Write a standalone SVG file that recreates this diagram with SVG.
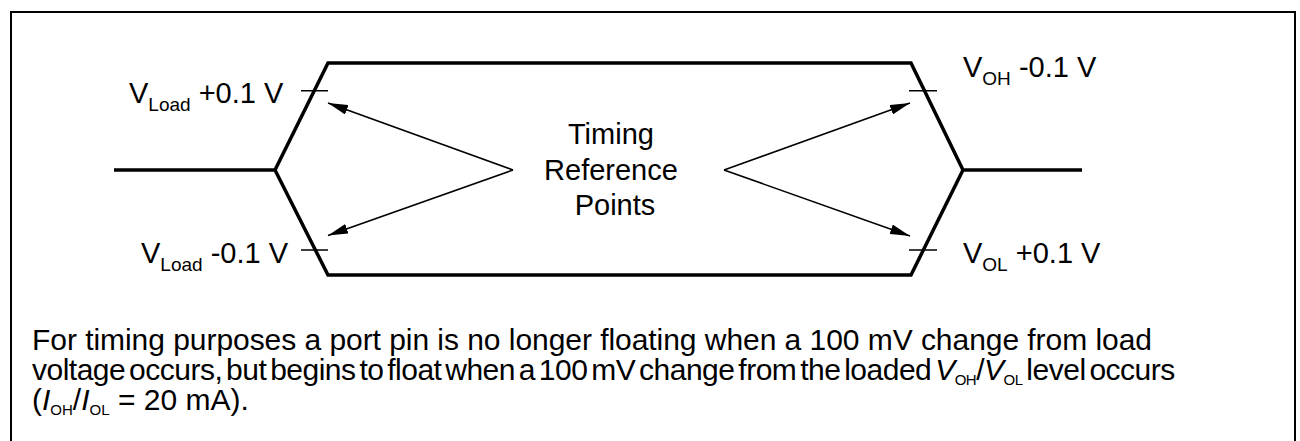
<svg xmlns="http://www.w3.org/2000/svg" width="1300" height="441" viewBox="0 0 1300 441">
<style>
  .wire{fill:none;stroke:#000;stroke-width:3.5;stroke-linejoin:miter;stroke-linecap:butt}
  .tick{fill:none;stroke:#000;stroke-width:1.6}
  .arr{fill:none;stroke:#000;stroke-width:1.6;marker-end:url(#ah)}
  .frame{fill:none;stroke:#000;stroke-width:2}
  text{font-family:"Liberation Sans",Arial,sans-serif;fill:#000}
  .lbl{font-size:29px}
  .sub{font-size:19px}
  .para{font-size:30px}
  .psub{font-size:15px}
</style>
<defs>
  <marker id="ah" markerUnits="userSpaceOnUse" viewBox="0 0 20 10" markerWidth="20" markerHeight="10" refX="20" refY="5" orient="auto">
    <path d="M0,0 L20,5 L0,10 Z" fill="#000"/>
  </marker>
</defs>
<rect width="1300" height="441" fill="#fff"/>
<path class="frame" d="M11,441 V12 H1295 V441"/>

<g id="waveform">
  <path class="wire" d="M114,170 H275 L328,63 H911 L963,170 H1082"/>
  <path class="wire" d="M275,170 L328,275 H911 L963,170"/>
</g>

<g id="ticks">
  <path class="tick" d="M301,90.7 H328 M301,250 H328 M909,90.7 H937 M909,250 H937"/>
</g>

<g id="connectors">
  <line class="arr" x1="513" y1="170" x2="328" y2="103"/>
  <line class="arr" x1="513" y1="170" x2="328" y2="235.5"/>
  <line class="arr" x1="724" y1="170" x2="910" y2="103"/>
  <line class="arr" x1="724" y1="170" x2="910" y2="236"/>
</g>

<g id="label-vload-plus">
  <text class="lbl" x="129" y="103">V<tspan class="sub" dy="8">Load</tspan><tspan dy="-8"> +0.1 V</tspan></text>
</g>
<g id="label-vload-minus">
  <text class="lbl" x="141" y="263">V<tspan class="sub" dy="8">Load</tspan><tspan dy="-8"> -0.1 V</tspan></text>
</g>
<g id="label-voh">
  <text class="lbl" x="963" y="77">V<tspan class="sub" dy="8">OH</tspan><tspan dy="-8"> -0.1 V</tspan></text>
</g>
<g id="label-vol">
  <text class="lbl" x="963" y="263">V<tspan class="sub" dy="8">OL</tspan><tspan dy="-8"> +0.1 V</tspan></text>
</g>

<g id="timing-reference-points">
  <text class="lbl" text-anchor="middle">
    <tspan x="615" y="144">Timing</tspan>
    <tspan x="615" y="179.5">Reference</tspan>
    <tspan x="615" y="215">Points</tspan>
  </text>
</g>

<g id="note">
  <text class="para" x="32" y="350" textLength="1120" lengthAdjust="spacing">For timing purposes a port pin is no longer floating when a 100 mV change from load</text>
  <text class="para" x="32" y="380" letter-spacing="-0.5" word-spacing="-4">voltage occurs, but begins to float when a 100 mV change from the loaded <tspan font-style="italic">V</tspan><tspan class="psub" dy="5">OH</tspan><tspan dy="-5">/</tspan><tspan font-style="italic">V</tspan><tspan class="psub" dy="5">OL</tspan><tspan dy="-5"> level occurs</tspan></text>
  <text class="para" x="32" y="410">(<tspan font-style="italic">I</tspan><tspan class="psub" dy="5">OH</tspan><tspan dy="-5">/</tspan><tspan font-style="italic">I</tspan><tspan class="psub" dy="5">OL</tspan><tspan dy="-5"> = 20 mA).</tspan></text>
</g>
</svg>
